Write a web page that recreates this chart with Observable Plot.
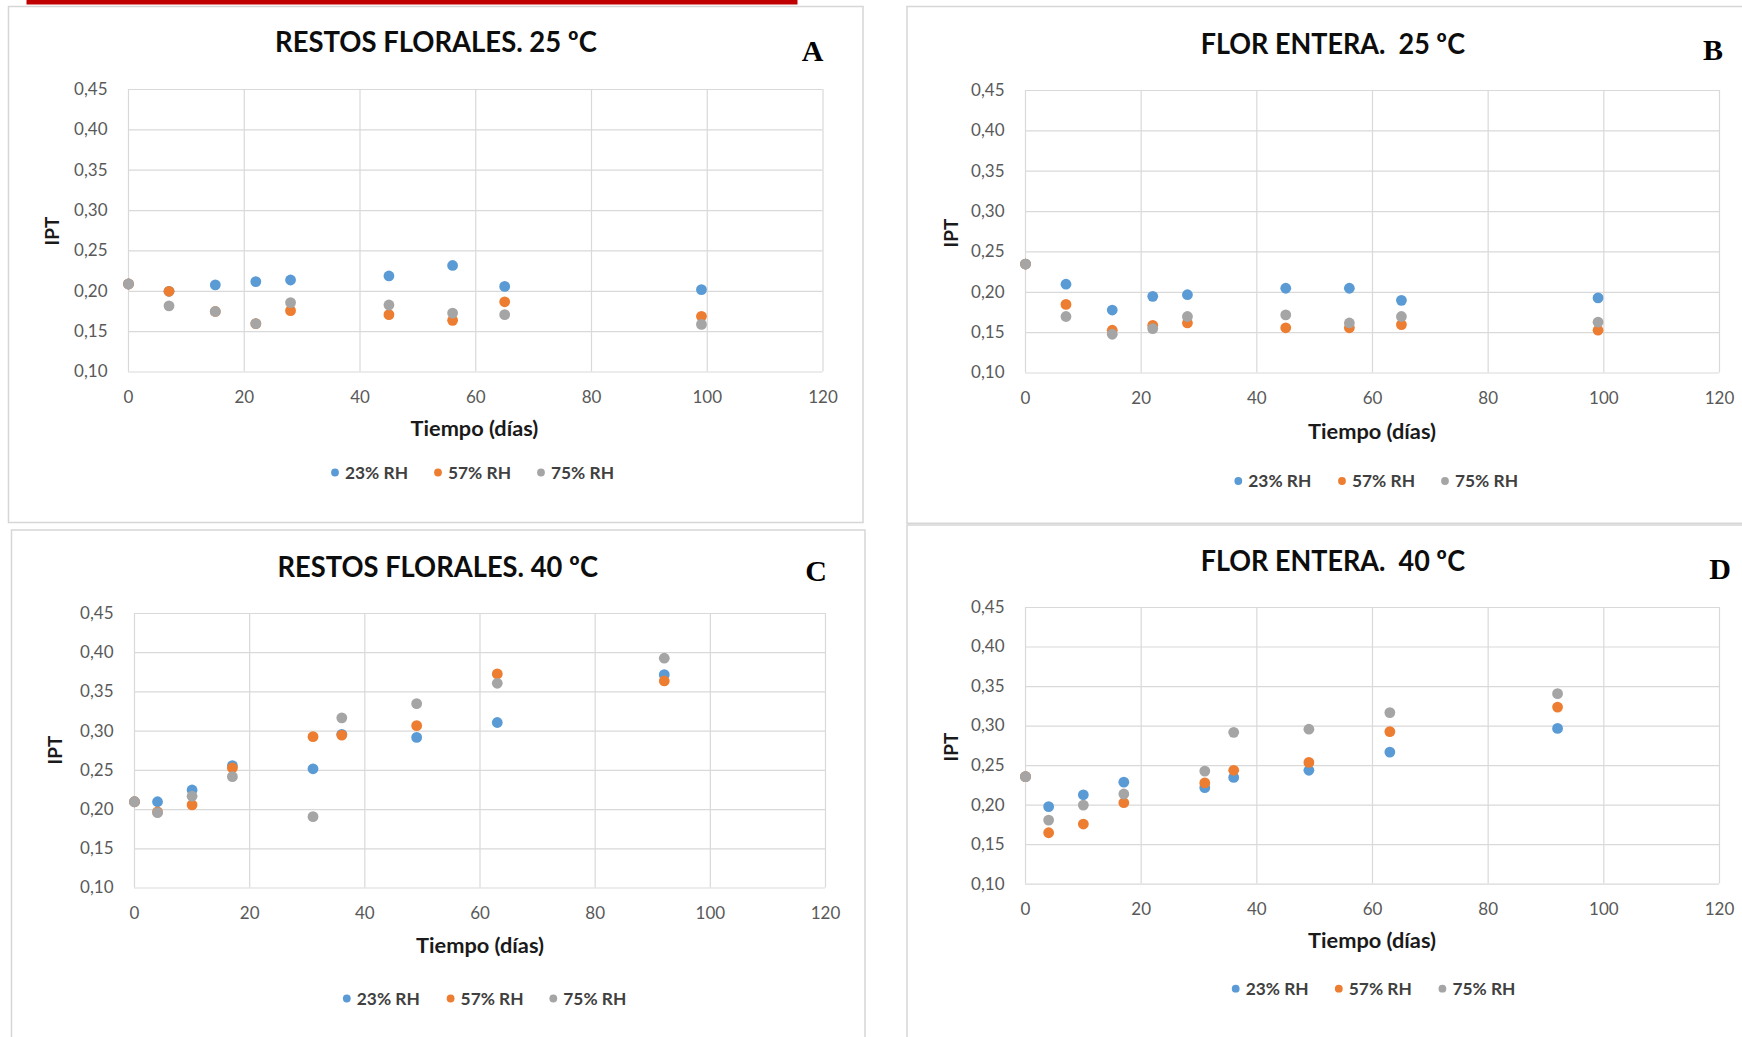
<!DOCTYPE html>
<html>
<head>
<meta charset="utf-8">
<script src="https://cdn.jsdelivr.net/npm/d3@7"></script>
<script src="https://cdn.jsdelivr.net/npm/@observablehq/plot@0.6"></script>
<style>
  html, body { margin:0; padding:0; background:#fff; }
  body { width:1742px; height:1037px; overflow:hidden; position:relative; font-family: Lato, "Open Sans", sans-serif; }
  .plotbox { position:absolute; }
  #overlay { position:absolute; left:0; top:0; }
</style>
</head>
<body>
<script>
// ---------- DATA ----------
const seriesNames = ["23% RH", "57% RH", "75% RH"];
const seriesColors = ["#5B9BD5", "#ED7D31", "#A5A5A5"];
const xTicks = [0, 20, 40, 60, 80, 100, 120];
const yTicks = [0.10, 0.15, 0.20, 0.25, 0.30, 0.35, 0.40, 0.45];

const titles = ["RESTOS FLORALES. 25 ºC", "FLOR ENTERA.  25 ºC", "RESTOS FLORALES. 40 ºC", "FLOR ENTERA.  40 ºC"];
const letters = ["A", "B", "C", "D"];
const xTitle = "Tiempo (días)";
const yTitle = "IPT";

const daysA = [0, 7, 15, 22, 28, 45, 56, 65, 99];
const A_23 = [0.209, 0.200, 0.208, 0.212, 0.214, 0.219, 0.232, 0.206, 0.202];
const A_57 = [0.209, 0.200, 0.175, 0.160, 0.176, 0.171, 0.164, 0.187, 0.169];
const A_75 = [0.209, 0.182, 0.175, 0.160, 0.186, 0.183, 0.173, 0.171, 0.159];

const daysB = [0, 7, 15, 22, 28, 45, 56, 65, 99];
const B_23 = [0.235, 0.210, 0.178, 0.195, 0.197, 0.205, 0.205, 0.190, 0.193];
const B_57 = [0.235, 0.185, 0.153, 0.159, 0.162, 0.156, 0.156, 0.160, 0.153];
const B_75 = [0.235, 0.170, 0.148, 0.155, 0.170, 0.172, 0.162, 0.170, 0.163];

const daysC = [0, 4, 10, 17, 31, 36, 49, 63, 92];
const C_23 = [0.210, 0.210, 0.225, 0.256, 0.252, 0.296, 0.292, 0.311, 0.372];
const C_57 = [0.210, 0.197, 0.206, 0.253, 0.293, 0.295, 0.307, 0.373, 0.364];
const C_75 = [0.210, 0.196, 0.217, 0.242, 0.191, 0.317, 0.335, 0.361, 0.393];

const daysD = [0, 4, 10, 17, 31, 36, 49, 63, 92];
const D_23 = [0.236, 0.198, 0.213, 0.229, 0.222, 0.235, 0.244, 0.267, 0.297];
const D_57 = [0.236, 0.165, 0.176, 0.203, 0.228, 0.244, 0.254, 0.293, 0.324];
const D_75 = [0.236, 0.181, 0.200, 0.214, 0.243, 0.292, 0.296, 0.317, 0.341];

// ---------- LAYOUT ----------
const panelData = [
  { days: daysA, vals: [A_23, A_57, A_75] },
  { days: daysB, vals: [B_23, B_57, B_75] },
  { days: daysC, vals: [C_23, C_57, C_75] },
  { days: daysD, vals: [D_23, D_57, D_75] }
];

const layout = [
  { plot: {l:128, t:88.5, r:822.5, b:371}, border: {x:8.5, y:6.5, x2:863, y2:522.5},
    title: {x1:275, x2:597, base:52}, letter: {x:812.5, base:60.5},
    xt: {x1:410.6, x2:538.3, cy:429}, yt: {cx:52.7, cy:231},
    legend: {y:472.5, dots:[335, 438, 541]} },
  { plot: {l:1025, t:89.5, r:1719, b:372}, border: {x:907, y:6.5, x2:1750, y2:523.3},
    title: {x1:1200.7, x2:1465, base:53.5}, letter: {x:1713, base:60},
    xt: {x1:1308, x2:1436, cy:432}, yt: {cx:951, cy:233},
    legend: {y:481, dots:[1238.3, 1342, 1445]} },
  { plot: {l:134, t:612.5, r:825, b:887}, border: {x:11.5, y:530, x2:865, y2:1045},
    title: {x1:277.5, x2:598, base:577}, letter: {x:816, base:580.5},
    xt: {x1:416, x2:544, cy:946}, yt: {cx:55.5, cy:750},
    legend: {y:998.5, dots:[346.8, 450.6, 553.3]} },
  { plot: {l:1025, t:606.6, r:1719, b:883.2}, border: {x:907, y:525, x2:1750, y2:1045},
    title: {x1:1200.7, x2:1465, base:570.5}, letter: {x:1720, base:579},
    xt: {x1:1308, x2:1436, cy:941.3}, yt: {cx:951, cy:747},
    legend: {y:988.7, dots:[1235.7, 1338.8, 1442.4]} }
];

const fmt = d => d.toFixed(2).replace(".", ",");

// ---------- PLOTS ----------
panelData.forEach((p, k) => {
  const L = layout[k].plot;
  const data = [];
  seriesNames.forEach((s, i) => p.days.forEach((d, j) => data.push({day: d, ipt: p.vals[i][j], serie: s})));
  const mL = 80, mT = 10, mR = 30, mB = 40;
  const w = (L.r - L.l) + mL + mR, h = (L.b - L.t) + mT + mB;
  const svg = Plot.plot({
    width: w, height: h,
    marginLeft: mL, marginTop: mT, marginRight: mR, marginBottom: mB,
    style: {fontFamily: "Lato, sans-serif", fontSize: "17px", color: "#595959", background: "transparent", overflow: "visible"},
    x: {domain: [0, 120]},
    y: {domain: [0.10, 0.45]},
    color: {domain: seriesNames, range: seriesColors},
    marks: [
      Plot.gridX({ticks: xTicks, stroke: "#d9d9d9", strokeOpacity: 1, strokeWidth: 1.2}),
      Plot.gridY({ticks: yTicks, stroke: "#d9d9d9", strokeOpacity: 1, strokeWidth: 1.2}),
      Plot.axisX({ticks: xTicks, tickSize: 0, tickPadding: 19, fill: "#595959", label: null}),
      Plot.axisY({ticks: yTicks, tickSize: 0, tickPadding: 21, fill: "#595959", label: null, tickFormat: fmt}),
      Plot.dot(data, {x: "day", y: "ipt", fill: "serie", r: 5.4})
    ]
  });
  svg.classList.add("plotbox");
  svg.style.position = "absolute";
  svg.style.left = (L.l - mL) + "px";
  svg.style.top = (L.t - mT) + "px";
  document.body.appendChild(svg);
});

// ---------- OVERLAY (titles, borders, legends) ----------
const ov = d3.select("body").append("svg")
  .attr("id", "overlay").attr("width", 1742).attr("height", 1037);

// red bar at top
ov.append("rect").attr("x", 26.5).attr("y", 0).attr("width", 771).attr("height", 4.5).attr("fill", "#C00000");

layout.forEach((L, k) => {
  const b = L.border;
  ov.append("rect").attr("x", b.x).attr("y", b.y).attr("width", b.x2 - b.x).attr("height", b.y2 - b.y)
    .attr("fill", "none").attr("stroke", "#d6d6d6").attr("stroke-width", 1.5);

  ov.append("text").text(titles[k])
    .attr("x", L.title.x1).attr("y", L.title.base)
    .attr("textLength", L.title.x2 - L.title.x1).attr("lengthAdjust", "spacingAndGlyphs")
    .attr("font-family", "Lato, sans-serif").attr("font-weight", "bold").attr("font-size", 29)
    .attr("fill", "#0d0d0d").style("white-space", "pre");

  ov.append("text").text(letters[k])
    .attr("x", L.letter.x).attr("y", L.letter.base).attr("text-anchor", "middle")
    .attr("font-family", "'Liberation Serif', 'DejaVu Serif', serif").attr("font-weight", "bold").attr("font-size", 30)
    .attr("fill", "#000");

  ov.append("text").text(xTitle)
    .attr("x", L.xt.x1).attr("y", L.xt.cy).attr("dy", "0.35em")
    .attr("textLength", L.xt.x2 - L.xt.x1).attr("lengthAdjust", "spacingAndGlyphs")
    .attr("font-family", "Lato, sans-serif").attr("font-weight", "bold").attr("font-size", 20)
    .attr("fill", "#1a1a1a");

  ov.append("text").text(yTitle)
    .attr("transform", `translate(${L.yt.cx},${L.yt.cy}) rotate(-90)`)
    .attr("text-anchor", "middle").attr("dy", "0.35em")
    .attr("font-family", "Lato, sans-serif").attr("font-weight", "bold").attr("font-size", 19)
    .attr("fill", "#1a1a1a");

  seriesNames.forEach((s, i) => {
    const cx = L.legend.dots[i];
    ov.append("circle").attr("cx", cx).attr("cy", L.legend.y).attr("r", 3.9).attr("fill", seriesColors[i]);
    ov.append("text").text(s)
      .attr("x", cx + 10).attr("y", L.legend.y).attr("dy", "0.36em")
      .attr("textLength", 63).attr("lengthAdjust", "spacingAndGlyphs")
      .attr("font-family", "Lato, sans-serif").attr("font-weight", "bold").attr("font-size", 17)
      .attr("fill", "#404040");
  });
});
</script>
</body>
</html>
